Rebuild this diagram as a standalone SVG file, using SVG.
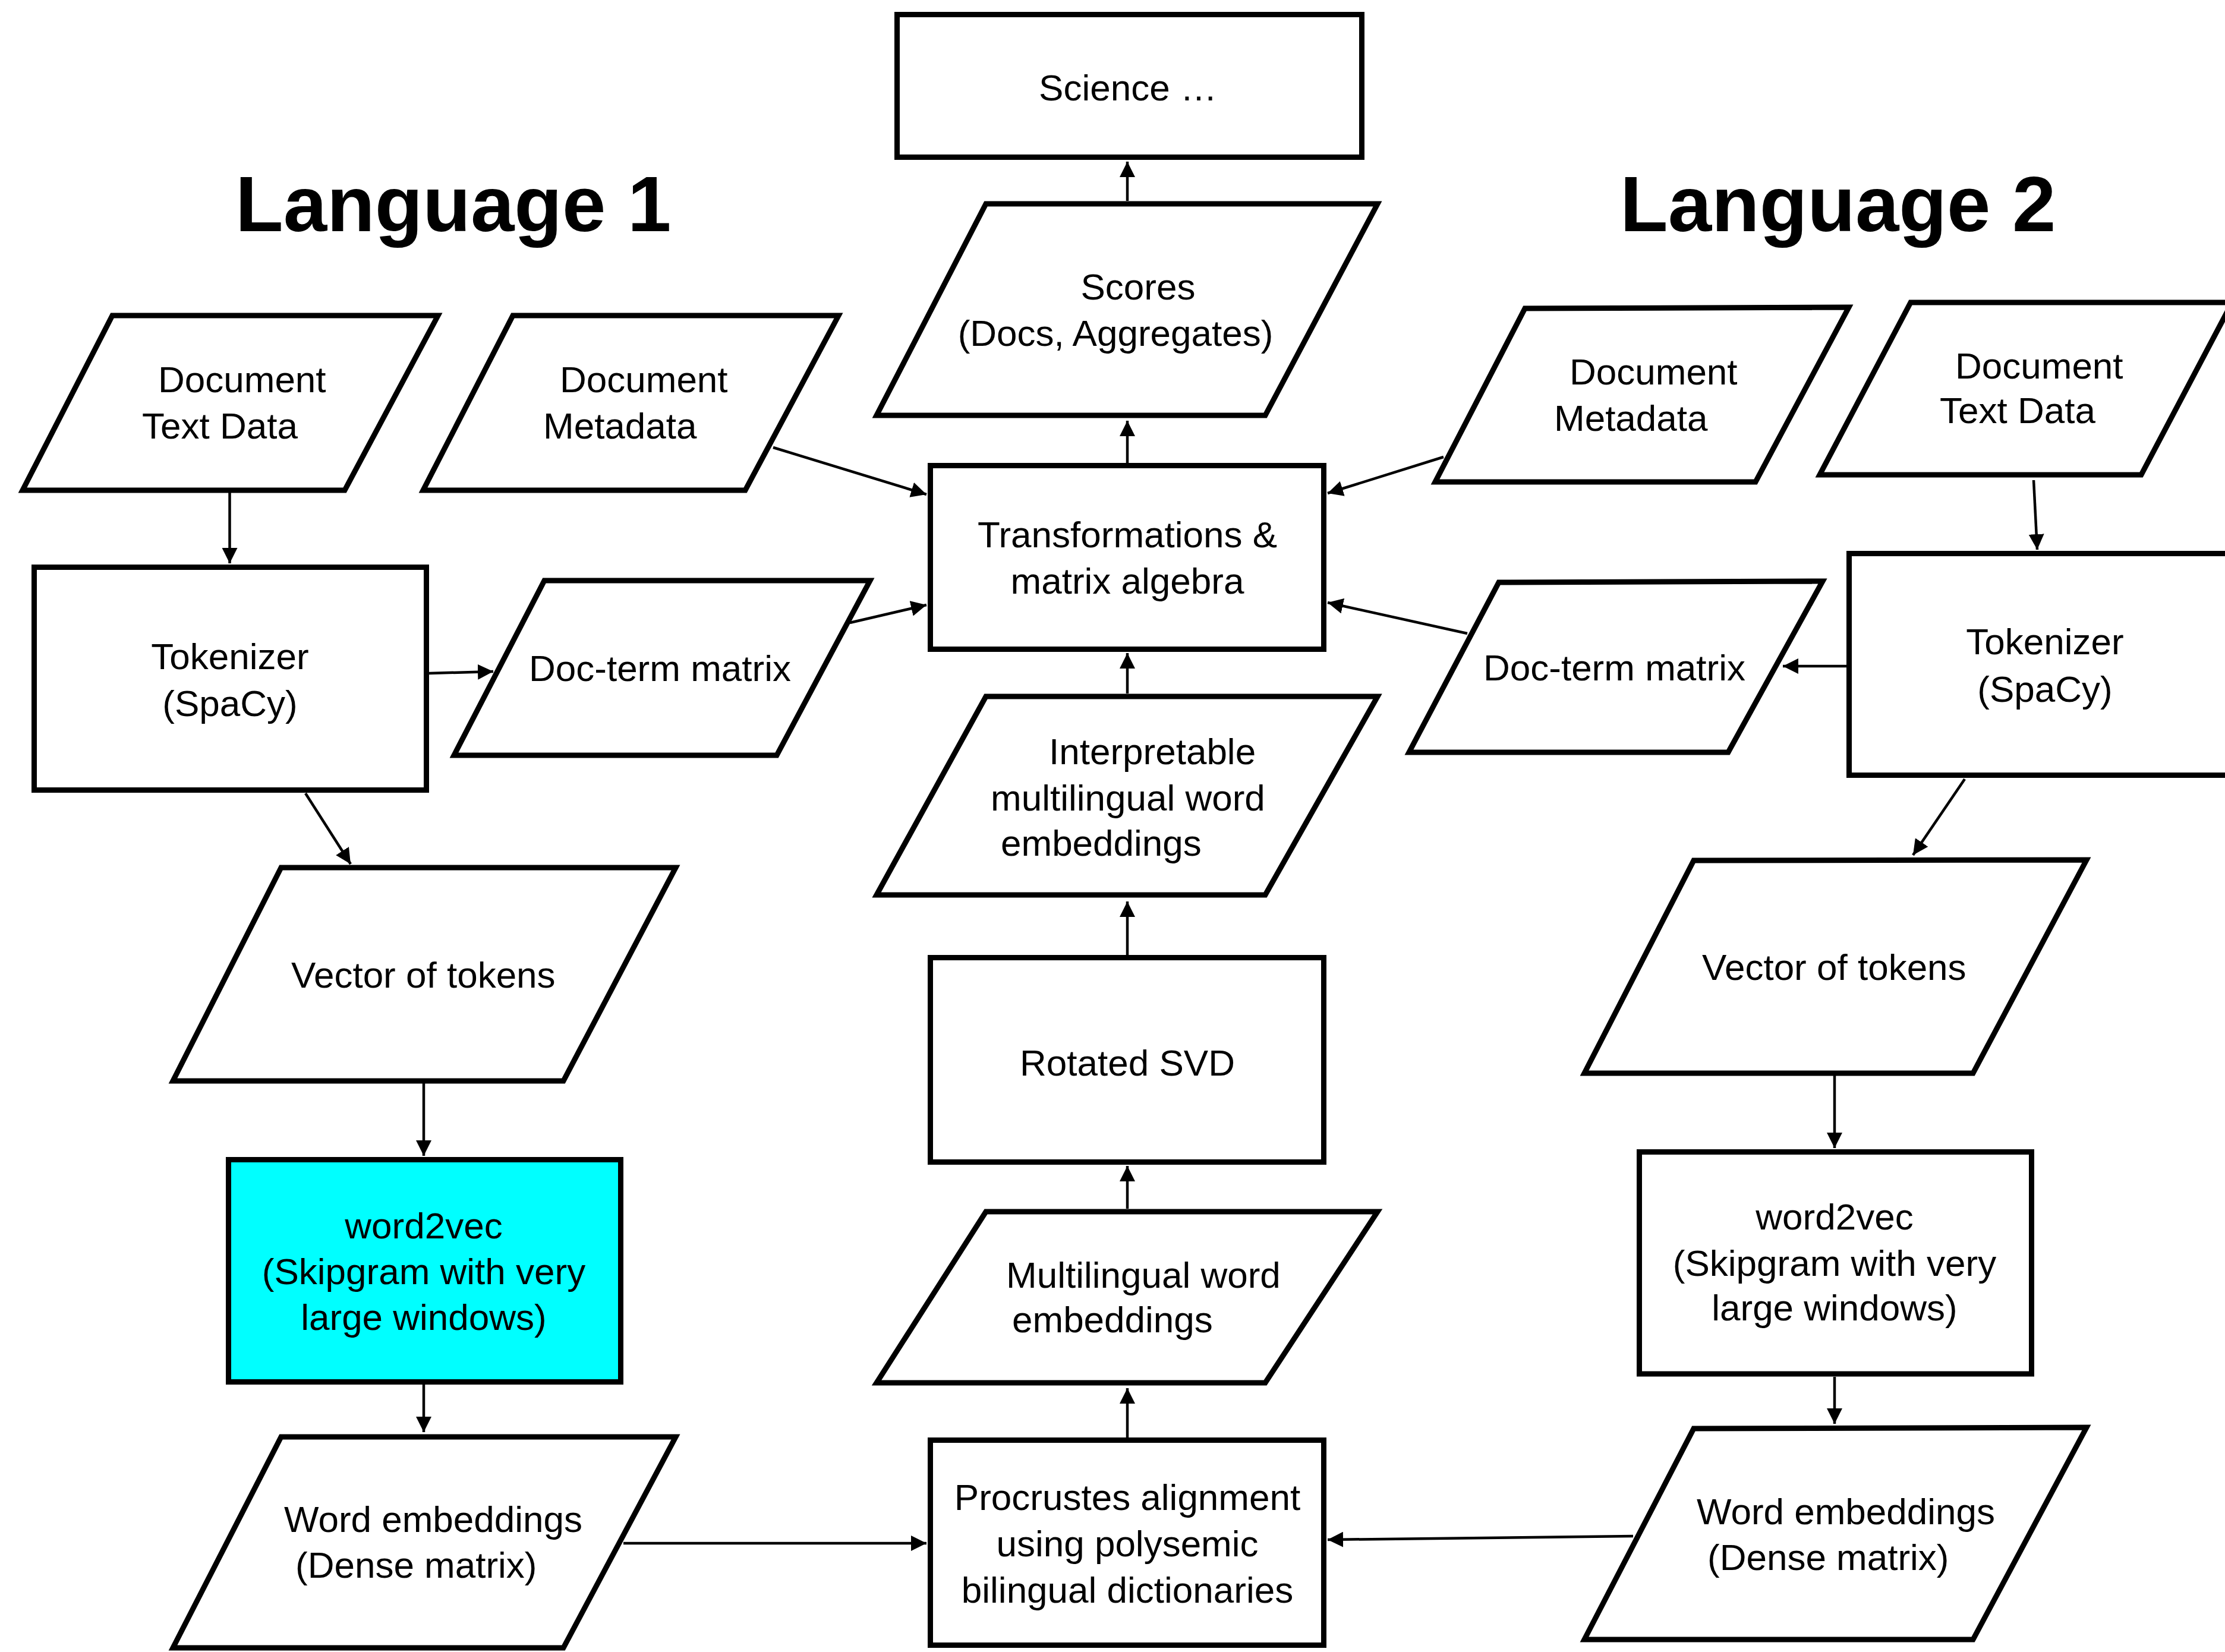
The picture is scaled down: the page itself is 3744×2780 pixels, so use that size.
<svg xmlns="http://www.w3.org/2000/svg" width="3744" height="2780" viewBox="0 0 3744 2780">
<style>
.shape{fill:#fff;stroke:#000;stroke-width:9;stroke-linejoin:miter}
.cyan{fill:#00ffff}
.t{font-family:"Liberation Sans",Arial,Helvetica,sans-serif;font-size:62px;fill:#000}
.c{text-anchor:middle}
.title{font-family:"Liberation Sans",Arial,Helvetica,sans-serif;font-size:132px;font-weight:bold;fill:#000}
.conn line{stroke:#000;stroke-width:4.5;fill:none}
</style>
<defs>
<marker id="ah" markerUnits="userSpaceOnUse" markerWidth="26" markerHeight="26" viewBox="0 0 24 24" refX="24" refY="12" orient="auto">
<path d="M0,0 L24,12 L0,24 Z" fill="#000"/>
</marker>
</defs>
<rect width="3744" height="2780" fill="#fff"/>

<text class="title" x="396" y="389">Language 1</text>
<text class="title" x="2726" y="389">Language 2</text>

<g id="science">
<rect class="shape" x="1509.5" y="24.5" width="782" height="240"/>
<text class="t c" x="1898" y="169">Science …</text>
</g>
<g id="scores">
<polygon class="shape" points="1659,343 2318,343 2129,699 1475,699"/>
<text class="t c" x="1915" y="504">Scores</text>
<text class="t c" x="1877" y="582">(Docs, Aggregates)</text>
</g>
<g id="transform">
<rect class="shape" x="1565.5" y="783.5" width="662" height="309"/>
<text class="t c" x="1897" y="921">Transformations &amp;</text>
<text class="t c" x="1897" y="999">matrix algebra</text>
</g>
<g id="interp">
<polygon class="shape" points="1659,1172 2318,1172 2129,1506 1475,1506"/>
<text class="t" x="1765" y="1286">Interpretable</text>
<text class="t" x="1667" y="1364">multilingual word</text>
<text class="t" x="1684" y="1440">embeddings</text>
</g>
<g id="svd">
<rect class="shape" x="1565.5" y="1611.5" width="662" height="344"/>
<text class="t c" x="1897" y="1810">Rotated SVD</text>
</g>
<g id="mwe">
<polygon class="shape" points="1659,2039 2318,2039 2129,2327 1475,2327"/>
<text class="t" x="1693" y="2167">Multilingual word</text>
<text class="t" x="1703" y="2242">embeddings</text>
</g>
<g id="procrustes">
<rect class="shape" x="1565.5" y="2423.5" width="662" height="345"/>
<text class="t c" x="1897" y="2541">Procrustes alignment</text>
<text class="t c" x="1897" y="2619">using polysemic</text>
<text class="t c" x="1897" y="2697">bilingual dictionaries</text>
</g>

<g id="doctext1">
<polygon class="shape" points="189,531 737,531 580,825 38,825"/>
<text class="t" x="266" y="660">Document</text>
<text class="t" x="239" y="738">Text Data</text>
</g>
<g id="docmeta1">
<polygon class="shape" points="863,531 1411,531 1254,825 712,825"/>
<text class="t" x="942" y="660">Document</text>
<text class="t" x="914" y="738">Metadata</text>
</g>
<g id="tok1">
<rect class="shape" x="57.5" y="954.5" width="660" height="375"/>
<text class="t c" x="387" y="1126">Tokenizer</text>
<text class="t c" x="387" y="1205">(SpaCy)</text>
</g>
<g id="docterm1">
<polygon class="shape" points="916,977 1464,977 1307,1271 764,1271"/>
<text class="t" x="890" y="1146">Doc-term matrix</text>
</g>
<g id="vector1">
<polygon class="shape" points="473,1460 1137,1460 948,1819 291,1819"/>
<text class="t" x="490" y="1662">Vector of tokens</text>
</g>
<g id="w2v1">
<rect class="shape cyan" x="384.5" y="1951.5" width="660" height="374"/>
<text class="t c" x="713" y="2084">word2vec</text>
<text class="t c" x="713" y="2161">(Skipgram with very</text>
<text class="t c" x="713" y="2238">large windows)</text>
</g>
<g id="we1">
<polygon class="shape" points="473,2418 1137,2418 948,2773 291,2773"/>
<text class="t" x="478" y="2578">Word embeddings</text>
<text class="t" x="497" y="2655">(Dense matrix)</text>
</g>

<g id="docmeta2">
<polygon class="shape" points="2566,519 3111,517 2954,811 2415,811"/>
<text class="t" x="2641" y="647">Document</text>
<text class="t" x="2615" y="725">Metadata</text>
</g>
<g id="doctext2">
<polygon class="shape" points="3215,509 3756,509 3603,799 3062,799"/>
<text class="t" x="3290" y="637">Document</text>
<text class="t" x="3264" y="712">Text Data</text>
</g>
<g id="tok2">
<rect class="shape" x="3111.5" y="931.5" width="680" height="373"/>
<text class="t c" x="3441" y="1101">Tokenizer</text>
<text class="t c" x="3441" y="1181">(SpaCy)</text>
</g>
<g id="docterm2">
<polygon class="shape" points="2522,980 3067,978 2908,1266 2371,1266"/>
<text class="t" x="2496" y="1145">Doc-term matrix</text>
</g>
<g id="vector2">
<polygon class="shape" points="2850,1448 3511,1447 3320,1806 2666,1806"/>
<text class="t" x="2864" y="1649">Vector of tokens</text>
</g>
<g id="w2v2">
<rect class="shape" x="2758.5" y="1938.5" width="660" height="373.5"/>
<text class="t c" x="3087" y="2069">word2vec</text>
<text class="t c" x="3087" y="2147">(Skipgram with very</text>
<text class="t c" x="3087" y="2222">large windows)</text>
</g>
<g id="we2">
<polygon class="shape" points="2850,2404 3511,2402 3320,2759 2666,2759"/>
<text class="t" x="2855" y="2565">Word embeddings</text>
<text class="t" x="2873" y="2642">(Dense matrix)</text>
</g>

<g id="connectors" class="conn">
<line x1="386.5" y1="829" x2="386.5" y2="948" marker-end="url(#ah)"/>
<line x1="1301" y1="753" x2="1559" y2="832" marker-end="url(#ah)"/>
<line x1="722" y1="1133" x2="830" y2="1130" marker-end="url(#ah)"/>
<line x1="1430" y1="1048" x2="1559" y2="1018" marker-end="url(#ah)"/>
<line x1="514" y1="1335" x2="590" y2="1454" marker-end="url(#ah)"/>
<line x1="713" y1="1823" x2="713" y2="1945" marker-end="url(#ah)"/>
<line x1="713" y1="2330" x2="713" y2="2410" marker-end="url(#ah)"/>
<line x1="1049" y1="2597" x2="1559" y2="2597" marker-end="url(#ah)"/>
<line x1="1897" y1="2419" x2="1897" y2="2336" marker-end="url(#ah)"/>
<line x1="1897" y1="2034" x2="1897" y2="1962" marker-end="url(#ah)"/>
<line x1="1897" y1="1607" x2="1897" y2="1517" marker-end="url(#ah)"/>
<line x1="1897" y1="1167" x2="1897" y2="1099" marker-end="url(#ah)"/>
<line x1="1897" y1="779" x2="1897" y2="708" marker-end="url(#ah)"/>
<line x1="1897" y1="338" x2="1897" y2="272" marker-end="url(#ah)"/>
<line x1="2429" y1="769" x2="2234" y2="830" marker-end="url(#ah)"/>
<line x1="2469" y1="1066" x2="2234" y2="1014" marker-end="url(#ah)"/>
<line x1="3422" y1="808" x2="3428" y2="925" marker-end="url(#ah)"/>
<line x1="3107" y1="1121" x2="3000" y2="1121" marker-end="url(#ah)"/>
<line x1="3306" y1="1311" x2="3219" y2="1439" marker-end="url(#ah)"/>
<line x1="3087" y1="1810" x2="3087" y2="1932" marker-end="url(#ah)"/>
<line x1="3087" y1="2317" x2="3087" y2="2396" marker-end="url(#ah)"/>
<line x1="2748" y1="2585" x2="2234" y2="2591" marker-end="url(#ah)"/>
</g>
</svg>
